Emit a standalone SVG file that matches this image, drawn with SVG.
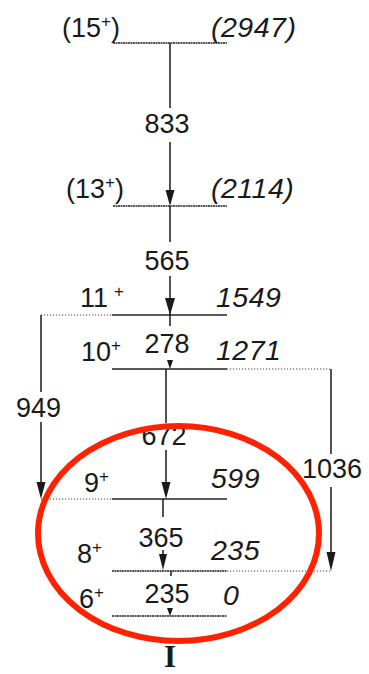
<svg xmlns="http://www.w3.org/2000/svg" width="369" height="674" viewBox="0 0 369 674">
<style>
text{font-family:"Liberation Sans",Arial,sans-serif;fill:#1a1a1a;font-size:27px}
.e{font-style:italic;font-size:28.5px;letter-spacing:0.5px}
.t{text-anchor:middle}
.sup{font-size:17px}
.lv{stroke:#222;stroke-width:1.5;fill:none}
.ld{stroke:#222;stroke-width:1.7;fill:none;stroke-dasharray:2 0.5}
.dot{stroke:#444;stroke-width:1.2;fill:none;stroke-dasharray:1.2 1.8}
.g{stroke:#1a1a1a;stroke-width:1.5;fill:none}
.ah{fill:#1a1a1a}
</style>
<rect width="369" height="674" fill="#fff"/>
<g id="levels">
<g id="lvl-2947">
<line class="ld" x1="113" y1="43" x2="227" y2="43"/>
<text x="62" y="37">(15<tspan class="sup" dy="-10">+</tspan><tspan dy="10">)</tspan></text>
<text class="e" x="211" y="37">(2947)</text>
</g>
<g id="lvl-2114">
<line class="ld" x1="113" y1="206" x2="227" y2="206"/>
<text x="66" y="198">(13<tspan class="sup" dy="-10">+</tspan><tspan dy="10">)</tspan></text>
<text class="e" x="211" y="198">(2114)</text>
</g>
<g id="lvl-1549">
<line class="lv" x1="112" y1="315" x2="227" y2="315"/>
<line class="dot" x1="41" y1="315" x2="112" y2="315"/>
<text x="80" y="307">11<tspan class="sup" dx="6" dy="-10">+</tspan></text>
<text class="e" x="216" y="307">1549</text>
</g>
<g id="lvl-1271">
<line class="lv" x1="112" y1="369" x2="227" y2="369"/>
<line class="dot" x1="227" y1="369" x2="331" y2="369"/>
<text x="81" y="361">10<tspan class="sup" dy="-10">+</tspan></text>
<text class="e" x="216" y="360">1271</text>
</g>
<g id="lvl-599">
<line class="lv" x1="112" y1="499" x2="227" y2="499"/>
<line class="dot" x1="41" y1="499" x2="112" y2="499"/>
<text x="84" y="492">9<tspan class="sup" dy="-10">+</tspan></text>
<text class="e" x="211" y="488">599</text>
</g>
<g id="lvl-235">
<line class="ld" x1="112" y1="571" x2="227" y2="571"/>
<line class="dot" x1="227" y1="571" x2="331" y2="571"/>
<text x="77" y="563">8<tspan class="sup" dy="-10">+</tspan></text>
<text class="e" x="211" y="560">235</text>
</g>
<g id="lvl-0">
<line class="ld" x1="112" y1="616" x2="227" y2="616"/>
<text x="79" y="608">6<tspan class="sup" dy="-10">+</tspan></text>
<text class="e" x="223" y="605">0</text>
</g>
</g>
<g id="connectors">
<g id="t833">
<line class="g" x1="170" y1="43" x2="170" y2="108"/>
<line class="g" x1="170" y1="142" x2="170" y2="192"/>
<polygon class="ah" points="165.5,190 174.5,190 170,206"/>
<text class="t" x="167" y="133">833</text>
</g>
<g id="t565">
<line class="g" x1="170" y1="206" x2="170" y2="242"/>
<line class="g" x1="170" y1="276" x2="170" y2="326"/>
<polygon class="ah" points="165,298 175,298 170,315"/>
<text class="t" x="167" y="270">565</text>
</g>
<g id="t278">
<polygon class="ah" points="167,360 173,360 170,369"/>
<text class="t" x="167" y="353">278</text>
</g>
<g id="t672">
<line class="g" x1="166" y1="369" x2="166" y2="423"/>
<line class="g" x1="166" y1="450" x2="166" y2="485"/>
<polygon class="ah" points="161.5,482 170.5,482 166,499"/>
<text class="t" x="164" y="445">672</text>
</g>
<g id="t365">
<line class="g" x1="163" y1="499" x2="163" y2="517"/>
<line class="g" x1="163" y1="550" x2="163" y2="556"/>
<polygon class="ah" points="159,554 167,554 163,570"/>
<text class="t" x="161" y="547">365</text>
</g>
<g id="t235">
<line class="g" x1="171" y1="571" x2="171" y2="576"/>
<polygon class="ah" points="167,608 173,608 170,616"/>
<text class="t" x="167" y="603">235</text>
</g>
<g id="t949">
<line class="g" x1="41" y1="315" x2="41" y2="392"/>
<line class="g" x1="41" y1="422" x2="41" y2="485"/>
<polygon class="ah" points="36.5,482 45.5,482 41,499"/>
<text class="t" x="38.5" y="417">949</text>
</g>
<g id="t1036">
<line class="g" x1="331" y1="369" x2="331" y2="454"/>
<line class="g" x1="331" y1="487" x2="331" y2="555"/>
<polygon class="ah" points="326.5,552 335.5,552 331,571"/>
<text class="t" x="332" y="478">1036</text>
</g>
</g>
<text x="170" y="667" text-anchor="middle" style="font-family:'Liberation Serif','Times New Roman',serif;font-weight:bold;font-size:31px">I</text>
<ellipse cx="178.5" cy="533.5" rx="140.5" ry="107.5" fill="none" stroke="#ff2200" stroke-width="6"/>
</svg>
